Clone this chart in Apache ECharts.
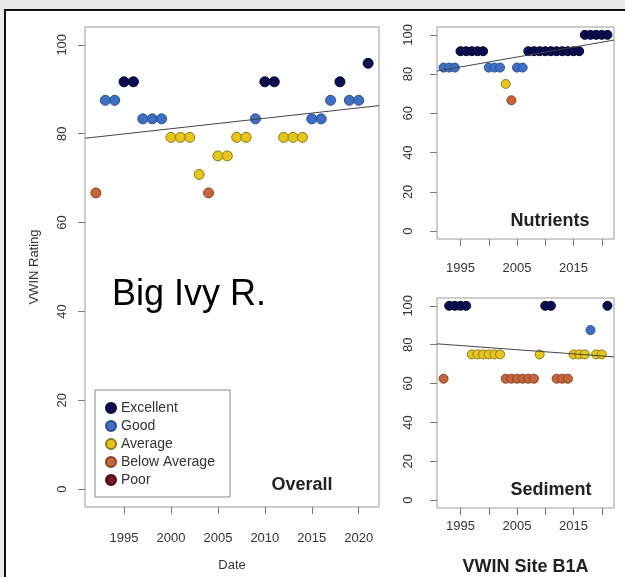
<!DOCTYPE html>
<html>
<head>
<meta charset="utf-8">
<script src="https://cdn.jsdelivr.net/npm/echarts@6/dist/echarts.min.js"></script>
<style>
  html, body { margin: 0; padding: 0; background: #e9e9e9; width: 625px; height: 577px; overflow: hidden; }
  #frame { position: absolute; left: 4px; top: 9px; width: 700px; height: 700px; border: 2px solid #111; background: #fff; }
  #chart { position: absolute; left: 0; top: 0; width: 625px; height: 577px; }
</style>
</head>
<body>
<div id="frame"></div>
<div id="chart"></div>
<script>
// ---- data ----
const years = [1992, 1993, 1994, 1995, 1996, 1997, 1998, 1999, 2000, 2001,
               2002, 2003, 2004, 2005, 2006, 2007, 2008, 2009, 2010, 2011,
               2012, 2013, 2014, 2015, 2016, 2017, 2018, 2019, 2020, 2021];
const overall = [66.67, 87.5, 87.5, 91.67, 91.67, 83.33, 83.33, 83.33, 79.17, 79.17,
                 79.17, 70.83, 66.67, 75, 75, 79.17, 79.17, 83.33, 91.67, 91.67,
                 79.17, 79.17, 79.17, 83.33, 83.33, 87.5, 91.67, 87.5, 87.5, 95.83];
const nutrients = [83.33, 83.33, 83.33, 91.67, 91.67, 91.67, 91.67, 91.67, 83.33, 83.33,
                   83.33, 75, 66.67, 83.33, 83.33, 91.67, 91.67, 91.67, 91.67, 91.67,
                   91.67, 91.67, 91.67, 91.67, 91.67, 100, 100, 100, 100, 100];
const sediment = [62.5, 100, 100, 100, 100, 75, 75, 75, 75, 75,
                  75, 62.5, 62.5, 62.5, 62.5, 62.5, 62.5, 75, 100, 100,
                  62.5, 62.5, 62.5, 75, 75, 75, 87.5, 75, 75, 100];
const ratingNames = ['Excellent', 'Good', 'Average', 'Below Average', 'Poor'];
const ratingColors = ['#0c0c50', '#3f6fc2', '#e6c51e', '#c4653c', '#7a1526'];
const ratingBorders = ['#05052e', '#2a4f93', '#8c7a12', '#8a4225', '#4a0c16'];
const yTicks = [0, 20, 40, 60, 80, 100];
const xTicks = [1995, 2000, 2005, 2010, 2015, 2020];
const xTickLabelsSmall = [1995, 2005, 2015];

// ---- helpers ----
function rating(v) {
  if (v >= 90) return 0;
  if (v >= 80) return 1;
  if (v >= 70) return 2;
  if (v >= 60) return 3;
  return 4;
}
function regress(xs, ys) {
  const n = xs.length;
  const mx = xs.reduce((a, b) => a + b, 0) / n;
  const my = ys.reduce((a, b) => a + b, 0) / n;
  let sxy = 0, sxx = 0;
  for (let i = 0; i < n; i++) { sxy += (xs[i] - mx) * (ys[i] - my); sxx += (xs[i] - mx) ** 2; }
  const b = sxy / sxx;
  return { a: my - b * mx, b: b };
}
const span = years[years.length - 1] - years[0];
const xMin = years[0] - 0.04 * span;
const xMax = years[years.length - 1] + 0.04 * span;
const yMin = -4, yMax = 104;

const panels = [
  { values: overall, grid: { left: 85, top: 27, width: 294, height: 483 }, size: 10, labels: xTicks, xMargin: 25, yMargin: 16 },
  { values: nutrients, grid: { left: 437, top: 27, width: 177, height: 212 }, size: 9, labels: xTickLabelsSmall, xMargin: 23, yMargin: 22 },
  { values: sediment, grid: { left: 437, top: 298, width: 177, height: 212 }, size: 9, labels: xTickLabelsSmall, xMargin: 12, yMargin: 22 }
];

const font = 'Liberation Sans, Arial, sans-serif';
const grids = [], xAxes = [], yAxes = [], series = [];
panels.forEach((p, pi) => {
  grids.push(Object.assign({ show: true, borderColor: '#9a9a9a', borderWidth: 1, backgroundColor: '#fff' }, p.grid));
  xAxes.push({
    gridIndex: pi, type: 'value', min: xMin, max: xMax,
    axisLine: { show: false, onZero: false }, splitLine: { show: false },
    axisTick: { show: true, inside: false, length: 7, lineStyle: { color: '#777' }, customValues: xTicks },
    axisLabel: { fontSize: 13, color: '#333', fontFamily: font, margin: p.xMargin, customValues: p.labels, formatter: v => String(v) },
    name: pi === 0 ? 'Date' : (pi === 2 ? 'VWIN Site B1A' : ''),
    nameLocation: 'middle', nameGap: pi === 0 ? 52 : 50,
    nameTextStyle: pi === 0 ? { fontSize: 13, color: '#333', fontFamily: font }
                            : { fontSize: 18, fontWeight: 'bold', color: '#222', fontFamily: font }
  });
  yAxes.push({
    gridIndex: pi, type: 'value', min: yMin, max: yMax,
    axisLine: { show: false, onZero: false }, splitLine: { show: false },
    axisTick: { show: true, inside: false, length: 7, lineStyle: { color: '#777' }, customValues: yTicks },
    axisLabel: { fontSize: 13, color: '#333', fontFamily: font, rotate: 90, margin: p.yMargin, customValues: yTicks },
    name: pi === 0 ? 'VWIN Rating' : '',
    nameLocation: 'middle', nameGap: 44, nameRotate: 90,
    nameTextStyle: { fontSize: 13, color: '#333', fontFamily: font }
  });
  ratingNames.forEach((name, ri) => {
    const data = [];
    p.values.forEach((v, i) => { if (rating(v) === ri) data.push([years[i], v]); });
    series.push({
      name: name, type: 'scatter', xAxisIndex: pi, yAxisIndex: pi,
      symbol: 'circle', symbolSize: p.size, data: data, z: 3,
      itemStyle: { color: ratingColors[ri], borderColor: ratingBorders[ri], borderWidth: 1, opacity: 1 },
      emphasis: { disabled: true }
    });
  });
  const r = regress(years, p.values);
  series.push({
    name: 'trend' + pi, type: 'line', xAxisIndex: pi, yAxisIndex: pi,
    data: [[xMin, r.a + r.b * xMin], [xMax, r.a + r.b * xMax]],
    symbol: 'none', lineStyle: { color: '#444', width: 1 }, z: 4, silent: true
  });
});

const chart = echarts.init(document.getElementById('chart'), null, { renderer: 'canvas' });
chart.setOption({
  animation: false,
  backgroundColor: 'transparent',
  grid: grids, xAxis: xAxes, yAxis: yAxes, series: series,
  legend: {
    data: ratingNames, orient: 'vertical', left: 100, top: 396,
    itemWidth: 10, itemHeight: 10, itemGap: 4, icon: 'circle', selectedMode: false,
    textStyle: { fontSize: 14, color: '#333', fontFamily: font }
  },
  graphic: [
    { type: 'rect', shape: { x: 95, y: 390, width: 135, height: 107 }, style: { fill: '#fff', stroke: '#888', lineWidth: 1 }, z: 1, silent: true },
    { type: 'text', x: 112, y: 295, style: { text: 'Big Ivy R.', font: '36px ' + font, fill: '#000', verticalAlign: 'middle' }, z: 10 },
    { type: 'text', x: 302, y: 485, style: { text: 'Overall', font: 'bold 18px ' + font, fill: '#222', align: 'center', verticalAlign: 'middle' }, z: 10 },
    { type: 'text', x: 550, y: 221, style: { text: 'Nutrients', font: 'bold 18px ' + font, fill: '#222', align: 'center', verticalAlign: 'middle' }, z: 10 },
    { type: 'text', x: 551, y: 490, style: { text: 'Sediment', font: 'bold 18px ' + font, fill: '#222', align: 'center', verticalAlign: 'middle' }, z: 10 }
  ]
});
</script>
</body>
</html>
